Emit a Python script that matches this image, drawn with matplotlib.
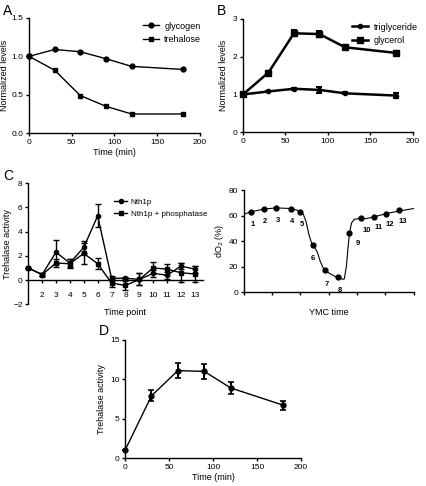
import matplotlib
matplotlib.use("Agg")
import matplotlib.pyplot as plt
from matplotlib.lines import Line2D

plt.rcParams["font.family"] = ["Liberation Sans", "DejaVu Sans"]
plt.rcParams["axes.linewidth"] = 1.0
plt.rcParams["xtick.major.size"] = 2.5
plt.rcParams["ytick.major.size"] = 2.5
plt.rcParams["xtick.major.pad"] = 2
plt.rcParams["ytick.major.pad"] = 1.5

# ---- data ----
time_min = [0, 30, 60, 90, 120, 180]

glycogen = [1.0, 1.09, 1.06, 0.97, 0.87, 0.83]
trehalose = [1.0, 0.82, 0.49, 0.35, 0.25, 0.25]

triglyceride = [1.0, 1.08, 1.15, 1.12, 1.03, 0.97]
triglyceride_err = [0.0, 0.02, 0.03, 0.08, 0.03, 0.07]
glycerol = [1.0, 1.58, 2.62, 2.60, 2.25, 2.10]
glycerol_err = [0.0, 0.03, 0.08, 0.07, 0.03, 0.03]

time_point = list(range(1, 14))
nth1p = [1.0, 0.45, 2.3, 1.4, 2.7, 5.3, 0.15, 0.15, 0.05, 0.55, 0.4, 1.15, 0.9]
nth1p_err = [0.0, 0.1, 1.0, 0.3, 0.5, 0.95, 0.2, 0.1, 0.5, 0.3, 0.3, 0.25, 0.3]
nth1p_phos = [1.0, 0.45, 1.4, 1.35, 2.2, 1.35, -0.25, -0.45, 0.05, 1.0, 0.9, 0.6, 0.5]
nth1p_phos_err = [0.0, 0.15, 0.35, 0.35, 0.9, 0.45, 0.35, 0.4, 0.5, 0.45, 0.45, 0.8, 0.7]

# dO2 trace (YMC) and sampled points
ymc_x = [0, 0.27, 0.7, 1.14, 1.65, 2.0, 2.1, 2.2, 2.3, 2.4, 2.5, 2.6, 2.7, 2.8,
         2.9, 3.0, 3.2, 3.33, 3.5, 3.55, 3.62, 3.68, 3.73, 3.8, 3.9, 4.14,
         4.3, 4.61, 5.02, 5.47, 6.0]
ymc_y = [61, 63, 65, 66, 65.5, 63.5, 61, 55, 45, 38, 35, 31, 24, 19,
         16.5, 15, 12.5, 11.5, 10, 10.5, 20, 35, 46, 54, 57, 58,
         57.5, 59, 61.5, 63.5, 65.5]
sample_x = [0.27, 0.7, 1.14, 1.65, 2.0, 2.44, 2.88, 3.33, 3.73, 4.14, 4.61, 5.02, 5.47]
sample_y = [63, 65, 66, 65, 63, 37, 17, 12, 46, 58, 59, 61.5, 64]
sample_labels = [str(i) for i in range(1, 14)]

d_activity = [1.0, 7.9, 11.1, 11.0, 8.9, 6.7]
d_err = [0.0, 0.7, 1.0, 1.0, 0.8, 0.6]

TICK = 6
LAB = 6.5


def style(ax):
    for s in ("top", "right"):
        ax.spines[s].set_visible(False)
    ax.tick_params(labelsize=TICK, width=1.0)


def proxy(marker, ms, lw):
    return Line2D([], [], color="k", marker=marker, ms=ms, lw=lw)


fig = plt.figure(figsize=(4.27, 4.86), dpi=100)

# ---- A ----
axA = fig.add_axes([0.068, 0.726, 0.400, 0.237])
axA.plot(time_min, glycogen, "k-o", ms=3.5, lw=1.0, label="glycogen", clip_on=False)
axA.plot(time_min, trehalose, "k-s", ms=3.5, lw=1.0, label="trehalose", clip_on=False)
axA.set_xlim(0, 200)
axA.set_ylim(0, 1.5)
axA.set_xticks([0, 50, 100, 150, 200])
axA.set_yticks([0.0, 0.5, 1.0, 1.5])
axA.set_yticklabels(["0.0", "0.5", "1.0", "1.5"])
axA.set_xlabel("Time (min)", fontsize=LAB, labelpad=1)
axA.set_ylabel("Normalized levels", fontsize=LAB, labelpad=2)
axA.legend(loc="upper right", frameon=False, fontsize=LAB, handlelength=1.8,
           borderaxespad=0.0, bbox_to_anchor=(1.03, 1.0), handletextpad=0.6)
style(axA)

# ---- B ----
axB = fig.add_axes([0.569, 0.728, 0.398, 0.233])
axB.errorbar(time_min, triglyceride, yerr=triglyceride_err, fmt="-o", color="k",
             ms=3, lw=1.8, capsize=2.5, elinewidth=1.5, capthick=1.5, clip_on=False)
axB.errorbar(time_min, glycerol, yerr=glycerol_err, fmt="-s", color="k",
             ms=4, lw=1.8, capsize=2.5, elinewidth=1.5, capthick=1.5, clip_on=False)
axB.set_xlim(0, 200)
axB.set_ylim(0, 3)
axB.set_xticks([0, 50, 100, 150, 200])
axB.set_yticks([0, 1, 2, 3])
axB.set_ylabel("Normalized levels", fontsize=LAB, labelpad=3)
axB.legend([proxy("o", 3, 1.8), proxy("s", 4, 1.8)], ["triglyceride", "glycerol"],
           loc="upper right", frameon=False, fontsize=LAB, handlelength=1.8,
           borderaxespad=0.0, bbox_to_anchor=(1.05, 1.0), handletextpad=0.6)
style(axB)

# ---- C left ----
axC = fig.add_axes([0.066, 0.374, 0.41, 0.249])
axC.errorbar(time_point, nth1p, yerr=nth1p_err, fmt="-o", color="k", ms=3,
             lw=1.0, capsize=2.5, clip_on=False)
axC.errorbar(time_point, nth1p_phos, yerr=nth1p_phos_err, fmt="-s", color="k",
             ms=3.5, lw=1.0, capsize=2.5, clip_on=False)
axC.set_xlim(1.0, 13.6)
axC.set_ylim(-2, 8)
axC.set_yticks([-2, 0, 2, 4, 6, 8])
axC.set_xticks(time_point[1:])
axC.spines["bottom"].set_position(("data", 0))
axC.set_ylabel("Trehalase activity", fontsize=LAB, labelpad=1)
axC.text(0.55, -0.035, "Time point", transform=axC.transAxes, fontsize=LAB,
         ha="center", va="top")
axC.legend([proxy("o", 3, 1.0), proxy("s", 3.5, 1.0)],
           ["Nth1p", "Nth1p + phosphatase"],
           loc="upper right", frameon=False, fontsize=5.8, handlelength=1.6,
           borderaxespad=0.0, bbox_to_anchor=(1.04, 0.9), handletextpad=0.4)
style(axC)
axC.tick_params(axis="x", pad=6)

# ---- C right ----
axY = fig.add_axes([0.571, 0.399, 0.398, 0.210])
axY.plot(ymc_x, ymc_y, "k-", lw=0.8)
axY.plot(sample_x, sample_y, "ko", ms=3.5)
label_offsets = [(1, -9), (1, -9), (1, -9), (1, -9), (1, -9), (0, -10), (1, -10),
                 (1, -10), (6, -7), (4, -9), (3, -8), (3, -8), (3, -8)]
for xv, yv, t, off in zip(sample_x, sample_y, sample_labels, label_offsets):
    axY.annotate(t, (xv, yv), xytext=off, textcoords="offset points",
                 fontsize=5.5, fontweight="bold", ha="center", va="center")
axY.set_xlim(0, 6)
axY.set_ylim(0, 80)
axY.set_yticks([0, 20, 40, 60, 80])
axY.set_xticks([0, 1, 2, 3, 4, 5, 6])
axY.set_xticklabels([])
axY.set_xlabel("YMC time", fontsize=LAB, labelpad=7)
axY.set_ylabel("dO$_2$ (%)", fontsize=LAB, labelpad=2)
style(axY)

# ---- D ----
axD = fig.add_axes([0.293, 0.0576, 0.412, 0.243])
axD.errorbar(time_min, d_activity, yerr=d_err, fmt="-o", color="k", ms=3.5,
             lw=1.0, capsize=2.5, elinewidth=1.5, capthick=1.2, clip_on=False)
axD.set_xlim(0, 200)
axD.set_ylim(0, 15)
axD.set_xticks([0, 50, 100, 150, 200])
axD.set_yticks([0, 5, 10, 15])
axD.set_xlabel("Time (min)", fontsize=LAB, labelpad=1)
axD.set_ylabel("Trehalase activity", fontsize=LAB, labelpad=3)
style(axD)

# panel letters
for t, x, y in [("A", 0.008, 0.978), ("B", 0.508, 0.978), ("C", 0.008, 0.638),
                ("D", 0.232, 0.318)]:
    fig.text(x, y, t, fontsize=10, ha="left", va="center")

fig.savefig("out.png", dpi=100)
